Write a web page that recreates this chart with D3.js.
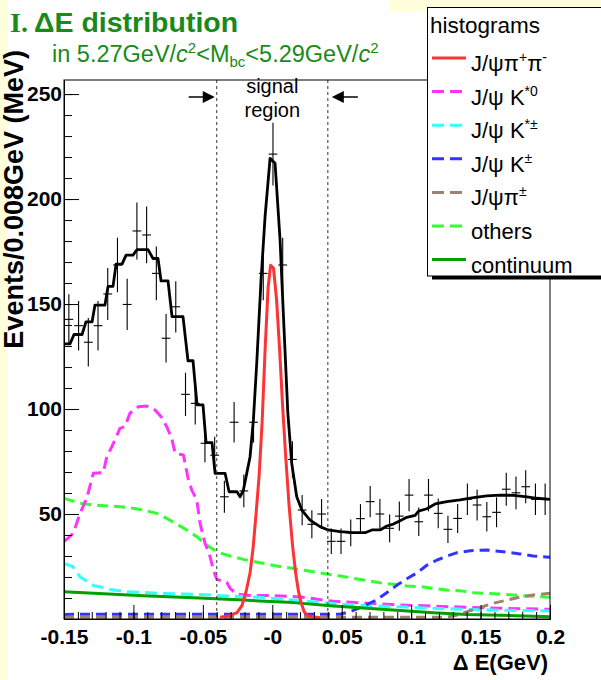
<!DOCTYPE html>
<html><head><meta charset="utf-8">
<script src="https://cdn.jsdelivr.net/npm/d3@7"></script>
<style>
html,body{margin:0;padding:0;background:#ffffdc;}
svg{display:block;}
text{font-family:"Liberation Sans",Arial,Helvetica,sans-serif;}
</style></head><body>
<svg id="c" width="601" height="680"></svg>
<script>
// ---------------- data ----------------
const binLo = -0.15, binWidth = 0.007;
const counts = [142.7,139.7,131.8,139.7,154.8,168.6,149.8,184.8,182.9,164.6,
  133.7,148.7,107,102.7,83.7,78,58.2,93.7,61,93.7,
  164.6,221.4,168.6,76,51.9,45.1,50,37,37,41,
  47.8,55.9,50,43.2,49,59,46.3,59,50.3,42.7,
  47.9,57,54.3,48.7,50.8,61.8,60.1,63,57,57];
const errors = [12,11.8,11.5,11.8,12.4,13,12.2,13.6,13.5,12.8,
  11.6,12.2,10.3,10.1,9.1,8.8,7.6,9.7,7.8,9.7,
  12.8,14.9,13,8.7,7.2,6.7,7.1,6.1,6.1,6.4,
  6.9,7.5,7.1,6.6,7,7.7,6.8,7.7,7.1,6.5,
  6.9,7.5,7.4,7,7.1,7.9,7.8,7.9,7.5,7.5];

const fitCurve = [[-0.15,131],[-0.1457,131],[-0.1428,135.5],[-0.137,135.5],[-0.1342,141.5],[-0.1298,141.5],[-0.1277,149.5],[-0.1205,149.5],[-0.1183,158.4],[-0.1147,158.4],[-0.1125,169],[-0.1082,169],[-0.1053,173.3],[-0.1003,173.3],[-0.0974,175.9],[-0.0895,175.9],[-0.0859,171.7],[-0.0823,171.7],[-0.0801,161],[-0.0751,161],[-0.0722,144],[-0.0643,144],[-0.0607,123],[-0.0571,123],[-0.0542,102],[-0.0499,102],[-0.0477,84],[-0.0434,84],[-0.0412,69.4],[-0.034,69.4],[-0.0311,60.6],[-0.0254,60.6],[-0.0232,58.2],[-0.0208,61.4],[-0.016,77.3],[-0.0136,94.8],[-0.0112,121.8],[-0.0081,161.4],[-0.0052,191.6],[-0.0016,219.4],[0.002,217],[0.0056,180.5],[0.0085,137.6],[0.0112,98],[0.014,74.1],[0.0176,58.2],[0.0213,51.9],[0.0272,47.1],[0.0344,44],[0.0402,42.4],[0.0488,41.6],[0.0584,41.1],[0.0669,41.1],[0.0717,42.4],[0.0777,42.4],[0.0825,44.3],[0.0872,45.2],[0.0921,46.8],[0.0969,48.4],[0.1029,49.4],[0.1053,51.4],[0.1113,52.5],[0.1173,54.8],[0.1257,55.9],[0.1353,56.7],[0.1449,57.8],[0.1545,58.6],[0.1641,59],[0.1737,58.9],[0.1834,58.2],[0.1906,57.5],[0.2,57]];

const sigPiPi = [[-0.0376,0.8],[-0.0304,1.6],[-0.0254,3],[-0.0218,6.5],[-0.0189,13],[-0.016,22],[-0.0138,34],[-0.0117,50],[-0.0095,68],[-0.0073,94],[-0.0052,128],[-0.003,158],[-0.0012,168.5],[0.0009,167],[0.0031,152],[0.0053,128],[0.0074,102],[0.0096,78],[0.0121,54],[0.0146,35],[0.0168,22],[0.0189,13],[0.0207,8],[0.0229,3.5],[0.0258,1.4],[0.0344,0.6]];

const kstar0 = [[-0.15,36.8],[-0.1433,40.8],[-0.1385,50.3],[-0.1336,57.5],[-0.1289,69.4],[-0.1217,69.7],[-0.1192,77.3],[-0.1156,82],[-0.1097,90.8],[-0.1061,91.6],[-0.1025,98],[-0.0965,101.1],[-0.0904,101.4],[-0.0844,99.5],[-0.0796,96],[-0.076,91.6],[-0.0724,86],[-0.07,78.9],[-0.064,78.1],[-0.0604,66.2],[-0.058,61.4],[-0.0544,56.7],[-0.052,45.6],[-0.0484,36],[-0.0448,29.7],[-0.0424,23.3],[-0.04,18.9],[-0.0328,17.5],[-0.0304,14.6],[-0.0256,11.9],[-0.0184,11.2],[-0.0088,11.2],[0.0008,11.1],[0.0104,10.8],[0.02,10.5],[0.044,8.4],[0.0681,7.5],[0.0921,6.7],[0.1161,6.1],[0.1401,5.6],[0.1641,5.1],[0.2,4.6]];

const kstarPM = [[-0.15,26.5],[-0.1436,24.9],[-0.1385,20.1],[-0.1349,18.6],[-0.1289,16],[-0.1217,15],[-0.1167,14.1],[-0.1048,13],[-0.0808,12.2],[-0.0568,11.8],[-0.0328,11],[-0.0088,10.3],[0.02,8.8],[0.044,7.3],[0.0681,6.4],[0.0921,5.8],[0.1161,5.1],[0.1401,4.6],[0.1641,4.2],[0.2,3.8]];

const kPM = [[-0.15,2.2],[0.0488,2.3],[0.056,3.5],[0.0654,6],[0.0748,9],[0.0834,13],[0.0906,16.5],[0.0978,19.5],[0.1043,22],[0.1115,25.7],[0.1187,28.1],[0.1259,30],[0.1331,31.6],[0.1425,32.5],[0.1547,32.9],[0.1663,32],[0.1785,31],[0.1879,30],[0.2,29.4]];

const piPM = [[-0.15,0.8],[0.1209,0.8],[0.1281,1.2],[0.1331,1.9],[0.1403,3.5],[0.1497,5.5],[0.1591,7.5],[0.1692,9],[0.1785,10.5],[0.1879,11.4],[0.2,12.3]];

const others = [[-0.15,57.5],[-0.1385,55.1],[-0.1289,54.3],[-0.1169,53.8],[-0.1048,53.2],[-0.0929,51.9],[-0.0832,50.3],[-0.076,47.9],[-0.0688,45.2],[-0.0616,42.4],[-0.0544,39.2],[-0.0472,35.2],[-0.04,32],[-0.0304,30],[-0.0208,28.4],[-0.0088,26.8],[0.0032,25.2],[0.0152,24.1],[0.0296,22.5],[0.0393,21.4],[0.0488,20.5],[0.0584,19.4],[0.0681,18.3],[0.0777,17.3],[0.0872,16.5],[0.0969,15.7],[0.1065,15.4],[0.1161,14.6],[0.1257,13.8],[0.1353,13.5],[0.1449,12.5],[0.1545,12.2],[0.1641,11.9],[0.1737,11.4],[0.1834,11],[0.1929,10.6],[0.2,10.3]];

const continuum = [[-0.15,13],[-0.0929,11.1],[-0.0568,10.1],[-0.0208,9],[0.0152,7.8],[0.044,6.2],[0.0681,5.1],[0.0921,4],[0.1161,3],[0.1401,2.2],[0.1641,1.8],[0.2,1.1]];

const xTickValues = [-0.15,-0.1,-0.05,0,0.05,0.1,0.15,0.2];
const xTickLabels = ["-0.15","-0.1","-0.05","-0","0.05","0.1","0.15","0.2"];
const yTickValues = [50,100,150,200,250];
const yTickLabels = ["50","100","150","200","250"];
const signalEdges = [-0.04, 0.04];

// ---------------- layout ----------------
const svg = d3.select("#c");
const W = 601, H = 680;
const pL = 64, pR = 550, pT = 80, pB = 619;
const x = d3.scaleLinear().domain([-0.15, 0.2]).range([pL, pR]);
const y = d3.scaleLinear().domain([0, 256.7]).range([pB, pT]);

// backgrounds
svg.append("rect").attr("x",0).attr("y",0).attr("width",W).attr("height",H).attr("fill","#ffffdc");
svg.append("rect").attr("x",8).attr("y",12).attr("width",W-8).attr("height",H-12).attr("fill","#fff");
svg.append("rect").attr("x",8).attr("y",0).attr("width",382).attr("height",14).attr("fill","#fff");

const green = "#198a19";
// title
svg.append("text").attr("x",10).attr("y",31.5).attr("fill",green)
  .style("font-family","'Liberation Serif','Times New Roman',serif").style("font-weight","bold").style("font-size","28px").text("I.");
svg.append("text").attr("x",34).attr("y",31.5).attr("fill",green)
  .style("font-weight","bold").style("font-size","28.5px").text("ΔE distribution");
const sub = svg.append("text").attr("x",52).attr("y",62).attr("fill",green).style("font-size","23.5px");
sub.append("tspan").text("in 5.27GeV/");
sub.append("tspan").style("font-style","italic").text("c");
sub.append("tspan").attr("dy",-9).style("font-size","15px").text("2");
sub.append("tspan").attr("dy",9).text("<M");
sub.append("tspan").attr("dy",5).style("font-size","15px").text("bc");
sub.append("tspan").attr("dy",-5).text("<5.29GeV/");
sub.append("tspan").style("font-style","italic").text("c");
sub.append("tspan").attr("dy",-9).style("font-size","15px").text("2");

// clip
svg.append("clipPath").attr("id","frameclip").append("rect")
  .attr("x",pL).attr("y",pT).attr("width",pR-pL).attr("height",pB-pT);
const plot = svg.append("g").attr("clip-path","url(#frameclip)");

const line = d3.line().x(d => x(d[0])).y(d => y(d[1]));

// signal region lines
signalEdges.forEach(e => {
  svg.append("line").attr("x1",x(e)).attr("x2",x(e)).attr("y1",pT).attr("y2",pB)
    .attr("stroke","#333").attr("stroke-width",1).attr("stroke-dasharray","3,3");
});

const series = [
  {data: others,    color:"#33ff33", width:3,   dash:"11,6"},
  {data: kstar0,    color:"#ff33ff", width:3,   dash:"12,6"},
  {data: kstarPM,   color:"#33ffff", width:3,   dash:"12,6"},
  {data: kPM,       color:"#3333ff", width:3,   dash:"10,6"},
  {data: piPM,      color:"#a08070", width:3,   dash:"10,6"},
  {data: continuum, color:"#00a000", width:3,   dash:null},
  {data: sigPiPi,   color:"#ff3333", width:3,   dash:null},
  {data: fitCurve,  color:"#000000", width:2.8, dash:null}
];
series.forEach(s => {
  const p = plot.append("path").attr("d", line(s.data)).attr("fill","none")
    .attr("stroke", s.color).attr("stroke-width", s.width).attr("stroke-linejoin","round");
  if (s.dash) p.attr("stroke-dasharray", s.dash);
});

// data points
const pts = plot.append("g").attr("stroke","#000").attr("stroke-width",1.1);
counts.forEach((c, i) => {
  const lo = binLo + i*binWidth, hi = lo + binWidth, mid = lo + binWidth/2;
  pts.append("line").attr("x1",x(lo)+0.5).attr("x2",x(hi)-0.5).attr("y1",y(c)).attr("y2",y(c));
  pts.append("line").attr("x1",x(mid)).attr("x2",x(mid)).attr("y1",y(c-errors[i])).attr("y2",y(c+errors[i]));
});

// frame
svg.append("rect").attr("x",pL).attr("y",pT).attr("width",pR-pL).attr("height",pB-pT)
  .attr("fill","none").attr("stroke","#000").attr("stroke-width",1);

// axes
const xMinor = d3.range(-0.15, 0.2001, 0.01).map(v => +v.toFixed(3));
const xAxisMinor = d3.axisBottom(x).tickValues(xMinor).tickSizeInner(-7).tickSizeOuter(0).tickFormat("");
const gxm = svg.append("g").attr("transform",`translate(0,${pB})`).call(xAxisMinor);
const xAxis = d3.axisBottom(x).tickValues(xTickValues).tickSizeInner(-14).tickSizeOuter(0)
  .tickPadding(10).tickFormat((d,i) => xTickLabels[i]);
const gx = svg.append("g").attr("transform",`translate(0,${pB})`).call(xAxis);

const yMinor = d3.range(0, 251, 10);
const yAxisMinor = d3.axisLeft(y).tickValues(yMinor).tickSizeInner(-8).tickSizeOuter(0).tickFormat("");
const gym = svg.append("g").attr("transform",`translate(${pL},0)`).call(yAxisMinor);
const yAxis = d3.axisLeft(y).tickValues(yTickValues).tickSizeInner(-15).tickSizeOuter(0)
  .tickPadding(2).tickFormat((d,i) => yTickLabels[i]);
const gy = svg.append("g").attr("transform",`translate(${pL},0)`).call(yAxis);

[gx,gxm,gy,gym].forEach(g => {
  g.selectAll(".domain").attr("stroke","#000");
  g.selectAll(".tick line").attr("stroke","#000");
  g.selectAll(".tick text").attr("fill","#000").style("font-size","21px").style("font-weight","bold")
    .style("font-family","'Liberation Sans',Arial,sans-serif");
});

// axis titles
svg.append("text").attr("x",548).attr("y",670).attr("text-anchor","end")
  .style("font-size","22px").style("font-weight","bold").text("Δ E(GeV)");
svg.append("text").attr("transform","translate(23,50) rotate(-90)").attr("text-anchor","end")
  .style("font-size","27px").style("font-weight","bold").text("Events/0.008GeV (MeV)");

// signal region annotation
const cx = (x(signalEdges[0]) + x(signalEdges[1]))/2;
svg.append("text").attr("x",cx).attr("y",93).attr("text-anchor","middle").style("font-size","20px").text("signal");
svg.append("text").attr("x",cx).attr("y",117).attr("text-anchor","middle").style("font-size","20px").text("region");
const ay = 97;
const xl = x(signalEdges[0]) - 2, xr = x(signalEdges[1]) + 4;
svg.append("line").attr("x1",xl-26).attr("x2",xl-8).attr("y1",ay).attr("y2",ay).attr("stroke","#000").attr("stroke-width",1.5);
svg.append("path").attr("d",`M${xl},${ay} L${xl-12},${ay-6} L${xl-12},${ay+6} Z`).attr("fill","#000");
svg.append("line").attr("x1",xr+8).attr("x2",xr+26).attr("y1",ay).attr("y2",ay).attr("stroke","#000").attr("stroke-width",1.5);
svg.append("path").attr("d",`M${xr},${ay} L${xr+12},${ay-6} L${xr+12},${ay+6} Z`).attr("fill","#000");

// legend
const lg = svg.append("g");
lg.append("rect").attr("x",432).attr("y",276).attr("width",180).attr("height",3.5).attr("fill","#000");
lg.append("rect").attr("x",427.5).attr("y",7.5).attr("width",180).attr("height",268.5)
  .attr("fill","#fff").attr("stroke","#000").attr("stroke-width",1);
lg.append("text").attr("x",430).attr("y",33).style("font-size","22.5px").text("histograms");
const legendItems = [
  {color:"#ff3333", dash:null,  parts:[["J/ψπ"],["+","sup"],["π"],["-","sup"]]},
  {color:"#ff33ff", dash:"12,6",parts:[["J/ψ K"],["*0","sup"]]},
  {color:"#33ffff", dash:"12,6",parts:[["J/ψ K"],["*±","sup"]]},
  {color:"#3333ff", dash:"12,6",parts:[["J/ψ K"],["±","sup"]]},
  {color:"#a08070", dash:"12,6",parts:[["J/ψπ"],["±","sup"]]},
  {color:"#33ff33", dash:"12,6",parts:[["others"]]},
  {color:"#00a000", dash:null,  parts:[["continuum"]]}
];
legendItems.forEach((it, i) => {
  const ly = 58 + i*33.6;
  const l = lg.append("line").attr("x1",432).attr("x2",466).attr("y1",ly).attr("y2",ly)
    .attr("stroke",it.color).attr("stroke-width",3);
  if (it.dash) l.attr("stroke-dasharray",it.dash);
  const t = lg.append("text").attr("x",471).attr("y",ly+13).style("font-size","22px");
  let raised = false;
  it.parts.forEach(p => {
    const ts = t.append("tspan").text(p[0]);
    if (p[1] === "sup") { ts.attr("dy", -9).style("font-size","14px"); raised = true; }
    else if (raised) { ts.attr("dy", 9); raised = false; }
  });
});
</script>
</body></html>
